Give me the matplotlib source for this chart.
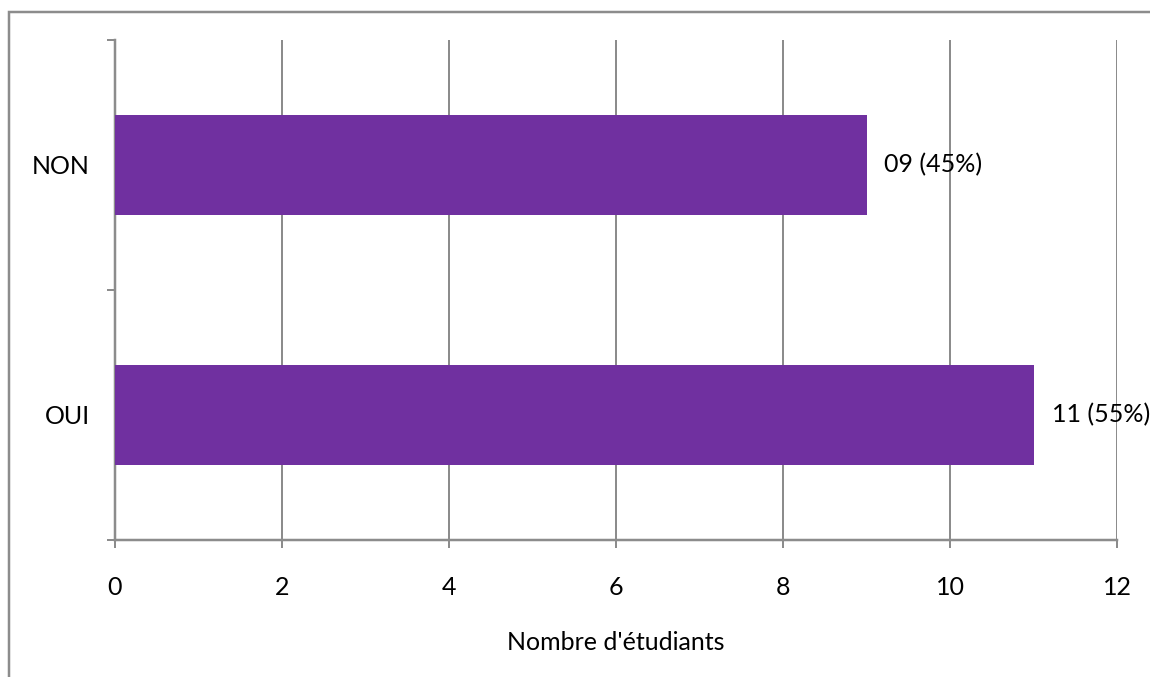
import matplotlib.pyplot as plt
from matplotlib.patches import Rectangle

# donnees
categories = ['OUI', 'NON']
valeurs = [11, 9]
etiquettes = ['11 (55%)', '09 (45%)']

plt.rcParams['font.family'] = ['Lato', 'DejaVu Sans']
gris = '#8c8c8c'
px = 72 / 100  # 1 pixel en points (dpi=100)

fig = plt.figure(figsize=(11.5, 6.77), dpi=100)
ax = fig.add_axes([115 / 1150, 1 - 540 / 677, 1002 / 1150, 500 / 677])

pos = list(range(len(categories)))
bars = ax.barh(pos, valeurs, height=0.4, color='#7030A0', zorder=3)

for b, txt in zip(bars, etiquettes):
    ax.annotate(txt, (b.get_width(), b.get_y() + b.get_height() / 2),
                xytext=(18 * px, 0), textcoords='offset points',
                va='center', ha='left', fontsize=18, zorder=4)

ax.set_xlim(0, 12)
ax.set_ylim(-0.5, 1.5)
ax.set_xticks(range(0, 13, 2))
ax.set_yticks(pos)
ax.set_yticklabels(categories)
ax.set_yticks([-0.5, 0.5, 1.5], minor=True)

ax.tick_params(axis='y', which='major', length=0, pad=25 * px, labelsize=18)
ax.tick_params(axis='y', which='minor', length=8 * px, width=2 * px, color=gris)
ax.tick_params(axis='x', which='major', length=8 * px, width=2 * px, color=gris,
               pad=28 * px, labelsize=18)

ax.grid(axis='x', color=gris, linewidth=2 * px, zorder=0)
for s in ['top', 'right']:
    ax.spines[s].set_visible(False)
for s in ['left', 'bottom']:
    ax.spines[s].set_color(gris)
    ax.spines[s].set_linewidth(2.5 * px)

ax.set_xlabel("Nombre d'étudiants", fontsize=18, labelpad=32 * px)

# cadre exterieur
fig.patches.append(Rectangle((8.5 / 1150, -0.1), 1.2, 1 - 11.5 / 677 + 0.1,
                             transform=fig.transFigure, fill=False,
                             edgecolor=gris, linewidth=2.5 * px))

fig.savefig('out.png', dpi=100)
